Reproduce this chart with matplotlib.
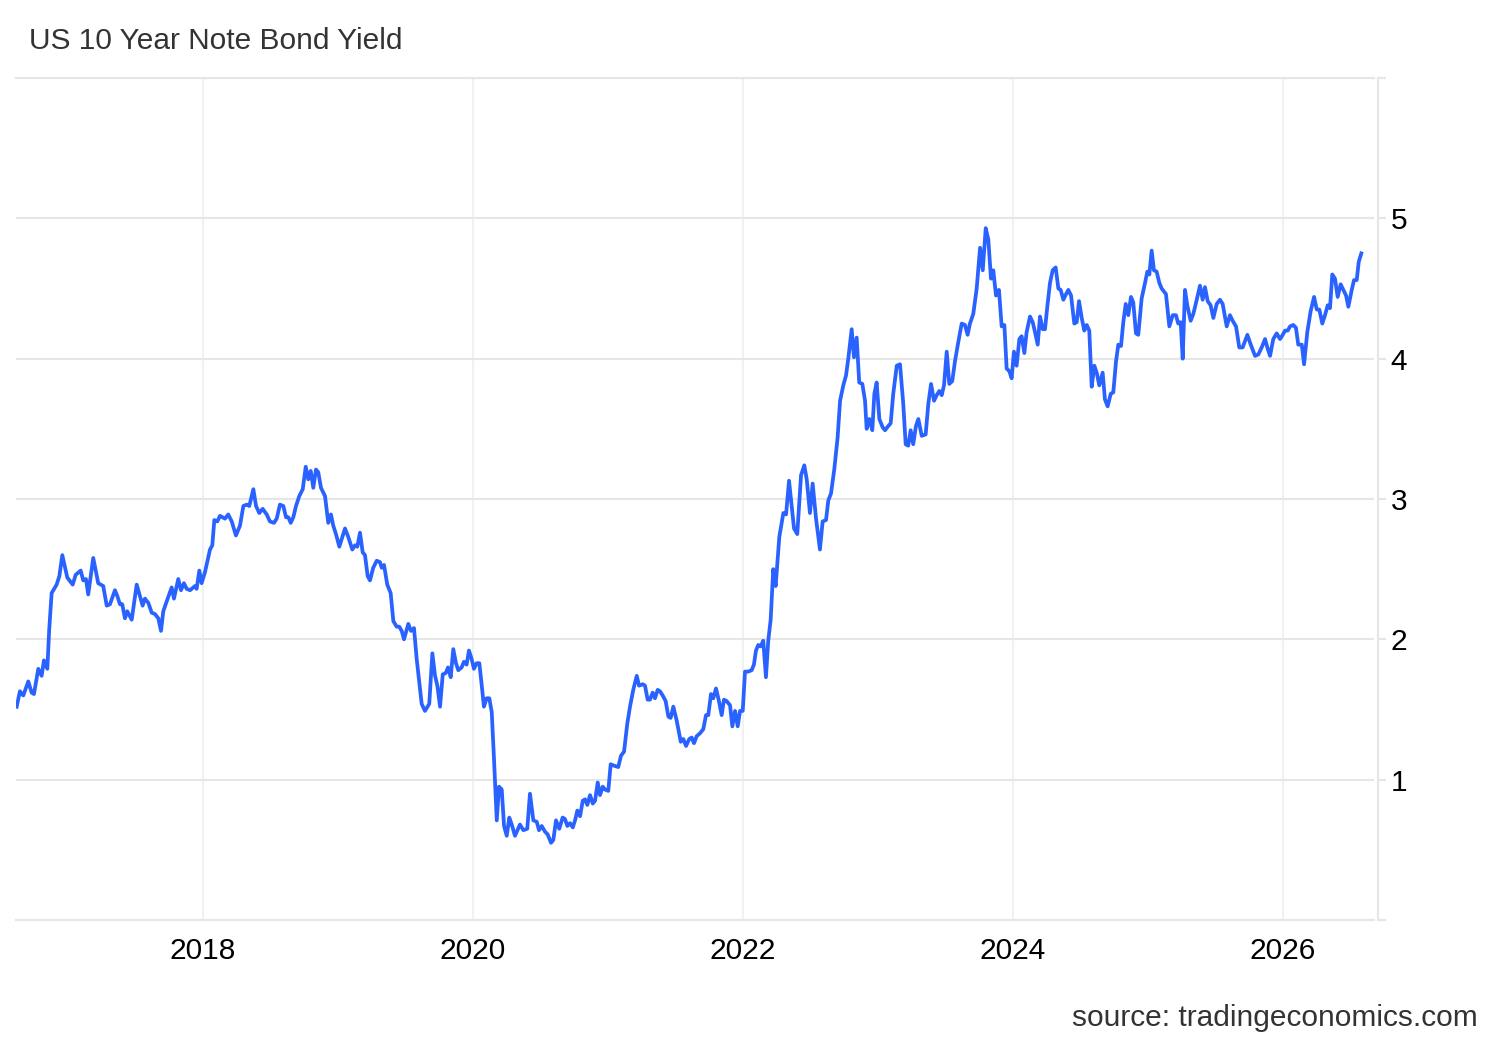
import matplotlib
matplotlib.use("Agg")
import matplotlib.pyplot as plt

plt.rcParams['font.family'] = ['Liberation Sans', 'DejaVu Sans']

title = "US 10 Year Note Bond Yield"
source = "source: tradingeconomics.com"

x_ticks = [2018, 2020, 2022, 2024, 2026]
x_tick_labels = ["2018", "2020", "2022", "2024", "2026"]
y_ticks = [0, 1, 2, 3, 4, 5, 6]
y_tick_labels = ["", "1", "2", "3", "4", "5", ""]

# decimal-year dates and yield values (%)
years = [
    2016.620, 2016.644, 2016.669, 2016.706, 2016.731, 2016.748, 2016.780, 2016.805, 2016.822, 2016.847,
    2016.861, 2016.879, 2016.916, 2016.936, 2016.958, 2016.995, 2017.035, 2017.057, 2017.094, 2017.113,
    2017.133, 2017.150, 2017.187, 2017.224, 2017.261, 2017.287, 2017.311, 2017.348, 2017.365, 2017.385,
    2017.402, 2017.422, 2017.439, 2017.472, 2017.509, 2017.553, 2017.570, 2017.595, 2017.620, 2017.644,
    2017.669, 2017.689, 2017.706, 2017.731, 2017.768, 2017.785, 2017.817, 2017.837, 2017.859, 2017.879,
    2017.904, 2017.941, 2017.953, 2017.973, 2017.990, 2018.015, 2018.052, 2018.069, 2018.084, 2018.106,
    2018.126, 2018.163, 2018.187, 2018.213, 2018.244, 2018.274, 2018.299, 2018.324, 2018.343, 2018.373,
    2018.393, 2018.417, 2018.442, 2018.472, 2018.496, 2018.526, 2018.546, 2018.570, 2018.595, 2018.615,
    2018.632, 2018.650, 2018.669, 2018.689, 2018.713, 2018.739, 2018.761, 2018.780, 2018.798, 2018.817,
    2018.837, 2018.854, 2018.874, 2018.904, 2018.928, 2018.948, 2018.965, 2018.985, 2019.010, 2019.052,
    2019.076, 2019.106, 2019.126, 2019.143, 2019.163, 2019.183, 2019.200, 2019.220, 2019.237, 2019.261,
    2019.287, 2019.311, 2019.324, 2019.341, 2019.365, 2019.390, 2019.410, 2019.435, 2019.454, 2019.472,
    2019.489, 2019.521, 2019.541, 2019.563, 2019.583, 2019.600, 2019.620, 2019.644, 2019.676, 2019.699,
    2019.719, 2019.736, 2019.756, 2019.776, 2019.798, 2019.815, 2019.835, 2019.854, 2019.874, 2019.891,
    2019.916, 2019.933, 2019.953, 2019.970, 2019.990, 2020.007, 2020.027, 2020.047, 2020.064, 2020.081,
    2020.101, 2020.121, 2020.139, 2020.156, 2020.176, 2020.193, 2020.213, 2020.230, 2020.250, 2020.269,
    2020.287, 2020.311, 2020.348, 2020.373, 2020.402, 2020.422, 2020.447, 2020.472, 2020.489, 2020.509,
    2020.533, 2020.553, 2020.578, 2020.595, 2020.615, 2020.639, 2020.664, 2020.681, 2020.699, 2020.719,
    2020.739, 2020.756, 2020.773, 2020.793, 2020.813, 2020.830, 2020.847, 2020.867, 2020.887, 2020.904,
    2020.924, 2020.941, 2020.961, 2020.978, 2021.002, 2021.020, 2021.044, 2021.076, 2021.096, 2021.119,
    2021.143, 2021.163, 2021.187, 2021.213, 2021.230, 2021.257, 2021.274, 2021.294, 2021.311, 2021.331,
    2021.348, 2021.368, 2021.385, 2021.405, 2021.427, 2021.447, 2021.464, 2021.484, 2021.509, 2021.539,
    2021.558, 2021.578, 2021.602, 2021.620, 2021.637, 2021.657, 2021.681, 2021.706, 2021.726, 2021.743,
    2021.763, 2021.780, 2021.800, 2021.822, 2021.842, 2021.859, 2021.879, 2021.904, 2021.921, 2021.941,
    2021.961, 2021.978, 2021.998, 2022.015, 2022.039, 2022.064, 2022.081, 2022.096, 2022.113, 2022.131,
    2022.150, 2022.170, 2022.187, 2022.205, 2022.224, 2022.242, 2022.269, 2022.299, 2022.319, 2022.341,
    2022.361, 2022.378, 2022.402, 2022.430, 2022.454, 2022.472, 2022.496, 2022.516, 2022.541, 2022.570,
    2022.590, 2022.615, 2022.632, 2022.652, 2022.676, 2022.701, 2022.719, 2022.743, 2022.763, 2022.780,
    2022.805, 2022.822, 2022.842, 2022.861, 2022.884, 2022.904, 2022.916, 2022.936, 2022.958, 2022.973,
    2022.990, 2023.010, 2023.035, 2023.052, 2023.076, 2023.094, 2023.113, 2023.139, 2023.163, 2023.187,
    2023.205, 2023.224, 2023.242, 2023.261, 2023.281, 2023.299, 2023.324, 2023.353, 2023.373, 2023.393,
    2023.415, 2023.435, 2023.454, 2023.472, 2023.489, 2023.509, 2023.528, 2023.550, 2023.570, 2023.595,
    2023.620, 2023.644, 2023.664, 2023.681, 2023.706, 2023.731, 2023.756, 2023.776, 2023.798, 2023.817,
    2023.837, 2023.854, 2023.874, 2023.896, 2023.916, 2023.936, 2023.953, 2023.973, 2023.990, 2024.007,
    2024.027, 2024.047, 2024.064, 2024.084, 2024.101, 2024.126, 2024.146, 2024.163, 2024.183, 2024.200,
    2024.220, 2024.237, 2024.254, 2024.274, 2024.294, 2024.316, 2024.336, 2024.353, 2024.373, 2024.393,
    2024.410, 2024.430, 2024.454, 2024.472, 2024.489, 2024.509, 2024.528, 2024.546, 2024.565, 2024.583,
    2024.602, 2024.620, 2024.639, 2024.664, 2024.681, 2024.701, 2024.724, 2024.743, 2024.763, 2024.780,
    2024.800, 2024.817, 2024.835, 2024.854, 2024.874, 2024.891, 2024.911, 2024.928, 2024.953, 2024.978,
    2024.995, 2025.010, 2025.027, 2025.044, 2025.064, 2025.084, 2025.101, 2025.133, 2025.158, 2025.183,
    2025.207, 2025.224, 2025.242, 2025.257, 2025.274, 2025.291, 2025.316, 2025.336, 2025.361, 2025.385,
    2025.405, 2025.422, 2025.442, 2025.464, 2025.484, 2025.509, 2025.533, 2025.553, 2025.583, 2025.607,
    2025.627, 2025.652, 2025.676, 2025.701, 2025.736, 2025.761, 2025.793, 2025.817, 2025.842, 2025.867,
    2025.884, 2025.904, 2025.928, 2025.953, 2025.978, 2025.998, 2026.015, 2026.035, 2026.052, 2026.076,
    2026.096, 2026.113, 2026.139, 2026.156, 2026.180, 2026.205, 2026.230, 2026.250, 2026.269, 2026.291,
    2026.311, 2026.331, 2026.348, 2026.365, 2026.385, 2026.405, 2026.427, 2026.447, 2026.467, 2026.484,
    2026.509, 2026.526, 2026.546, 2026.561, 2026.580,
]

yields = [
    1.52, 1.63, 1.60, 1.70, 1.62, 1.61, 1.79, 1.74, 1.85, 1.79,
    2.07, 2.33, 2.39, 2.45, 2.60, 2.44, 2.39, 2.46, 2.49, 2.42,
    2.43, 2.32, 2.58, 2.40, 2.38, 2.24, 2.25, 2.35, 2.31, 2.25,
    2.25, 2.15, 2.20, 2.14, 2.39, 2.24, 2.29, 2.26, 2.19, 2.18,
    2.15, 2.06, 2.20, 2.27, 2.37, 2.29, 2.43, 2.35, 2.40, 2.36,
    2.35, 2.38, 2.36, 2.49, 2.40, 2.48, 2.64, 2.67, 2.85, 2.84,
    2.88, 2.86, 2.89, 2.84, 2.74, 2.81, 2.95, 2.96, 2.95, 3.07,
    2.95, 2.90, 2.93, 2.89, 2.84, 2.83, 2.86, 2.96, 2.95, 2.87,
    2.87, 2.83, 2.87, 2.95, 3.02, 3.07, 3.23, 3.14, 3.20, 3.08,
    3.21, 3.19, 3.08, 3.02, 2.83, 2.89, 2.81, 2.75, 2.66, 2.79,
    2.73, 2.64, 2.67, 2.66, 2.76, 2.62, 2.60, 2.45, 2.42, 2.51,
    2.56, 2.55, 2.51, 2.53, 2.39, 2.33, 2.13, 2.09, 2.09, 2.06,
    2.00, 2.11, 2.06, 2.08, 1.86, 1.71, 1.54, 1.49, 1.54, 1.90,
    1.74, 1.67, 1.52, 1.75, 1.76, 1.80, 1.73, 1.93, 1.83, 1.78,
    1.80, 1.84, 1.82, 1.92, 1.86, 1.79, 1.83, 1.83, 1.68, 1.52,
    1.58, 1.58, 1.48, 1.14, 0.71, 0.95, 0.93, 0.67, 0.60, 0.73,
    0.68, 0.60, 0.68, 0.64, 0.65, 0.90, 0.71, 0.70, 0.64, 0.67,
    0.63, 0.61, 0.55, 0.57, 0.71, 0.65, 0.73, 0.72, 0.67, 0.69,
    0.66, 0.71, 0.78, 0.74, 0.85, 0.86, 0.82, 0.89, 0.83, 0.85,
    0.98, 0.89, 0.95, 0.93, 0.92, 1.11, 1.10, 1.09, 1.17, 1.20,
    1.40, 1.52, 1.64, 1.74, 1.67, 1.68, 1.67, 1.57, 1.57, 1.62,
    1.58, 1.64, 1.63, 1.60, 1.56, 1.45, 1.44, 1.52, 1.42, 1.27,
    1.29, 1.24, 1.29, 1.30, 1.26, 1.31, 1.33, 1.36, 1.46, 1.46,
    1.61, 1.58, 1.65, 1.56, 1.46, 1.57, 1.56, 1.53, 1.38, 1.49,
    1.38, 1.49, 1.49, 1.77, 1.77, 1.78, 1.82, 1.92, 1.96, 1.95,
    1.99, 1.73, 1.99, 2.14, 2.50, 2.38, 2.73, 2.90, 2.89, 3.13,
    2.95, 2.79, 2.75, 3.17, 3.24, 3.14, 2.90, 3.11, 2.86, 2.64,
    2.84, 2.85, 2.99, 3.04, 3.21, 3.44, 3.70, 3.81, 3.88, 4.00,
    4.21, 4.01, 4.15, 3.83, 3.82, 3.70, 3.50, 3.57, 3.49, 3.75,
    3.83, 3.57, 3.51, 3.49, 3.52, 3.54, 3.75, 3.95, 3.96, 3.68,
    3.39, 3.38, 3.49, 3.39, 3.52, 3.57, 3.45, 3.46, 3.68, 3.82,
    3.70, 3.74, 3.77, 3.74, 3.81, 4.05, 3.82, 3.84, 3.98, 4.12,
    4.25, 4.24, 4.17, 4.25, 4.32, 4.50, 4.79, 4.63, 4.93, 4.85,
    4.57, 4.63, 4.45, 4.49, 4.23, 4.24, 3.93, 3.91, 3.86, 4.05,
    3.95, 4.14, 4.16, 4.04, 4.19, 4.30, 4.26, 4.19, 4.10, 4.30,
    4.21, 4.21, 4.37, 4.54, 4.63, 4.65, 4.50, 4.49, 4.42, 4.46,
    4.49, 4.45, 4.25, 4.26, 4.41, 4.29, 4.20, 4.24, 4.20, 3.80,
    3.95, 3.90, 3.81, 3.90, 3.71, 3.66, 3.75, 3.76, 3.98, 4.10,
    4.09, 4.26, 4.39, 4.31, 4.44, 4.40, 4.18, 4.17, 4.43, 4.54,
    4.62, 4.60, 4.77, 4.63, 4.62, 4.54, 4.50, 4.46, 4.23, 4.31,
    4.31, 4.25, 4.26, 4.00, 4.49, 4.38, 4.27, 4.32, 4.42, 4.52,
    4.42, 4.51, 4.41, 4.38, 4.29, 4.39, 4.42, 4.39, 4.23, 4.31,
    4.27, 4.23, 4.08, 4.08, 4.17, 4.10, 4.02, 4.03, 4.08, 4.14,
    4.08, 4.02, 4.14, 4.18, 4.14, 4.17, 4.20, 4.20, 4.23, 4.24,
    4.22, 4.10, 4.10, 3.96, 4.19, 4.34, 4.44, 4.35, 4.35, 4.25,
    4.31, 4.38, 4.36, 4.60, 4.57, 4.44, 4.53, 4.49, 4.45, 4.37,
    4.49, 4.56, 4.56, 4.69, 4.75,
]

x_range = [2016.615, 2026.674]
y_range = [0, 6]

line_color = "#2962ff"
hgrid_color = "#e6e6e6"
vgrid_color = "#eef1f5"
text_color = "#333333"

fig = plt.figure(figsize=(15, 10.4), dpi=100)
ax = fig.add_axes([0.01067, 0.11538, 0.90533, 0.80962])

ax.plot(years, yields, color=line_color, linewidth=2.7, solid_joinstyle='round', zorder=3)

ax.set_xlim(*x_range)
ax.set_ylim(*y_range)

ax.set_xticks(x_ticks)
ax.set_xticklabels(x_tick_labels)
ax.set_yticks(y_ticks)
ax.set_yticklabels(y_tick_labels)

ax.yaxis.tick_right()
ax.tick_params(axis='y', which='both', direction='out', length=6, width=1.5,
               color=hgrid_color, labelsize=21.5, labelcolor='black', pad=3)
ax.tick_params(axis='x', which='both', length=0, labelsize=21.5, labelcolor='black', pad=12)

ax.grid(axis='y', color=hgrid_color, linewidth=1.5, zorder=0)
ax.grid(axis='x', color=vgrid_color, linewidth=1.5, zorder=0)

ax.spines['left'].set_visible(False)
for side in ['top', 'bottom']:
    ax.spines[side].set_color(hgrid_color)
    ax.spines[side].set_linewidth(1.5)
ax.spines['right'].set_color(hgrid_color)
ax.spines['right'].set_linewidth(1.5)
ax.spines['right'].set_position(('outward', 3))

fig.text(0.0193, 0.9605, title, fontsize=21.5, color=text_color, ha='left', va='center')
fig.text(0.9853, 0.021, source, fontsize=21.5, color=text_color, ha='right', va='center')

fig.savefig("out.png", dpi=100, facecolor='white')
